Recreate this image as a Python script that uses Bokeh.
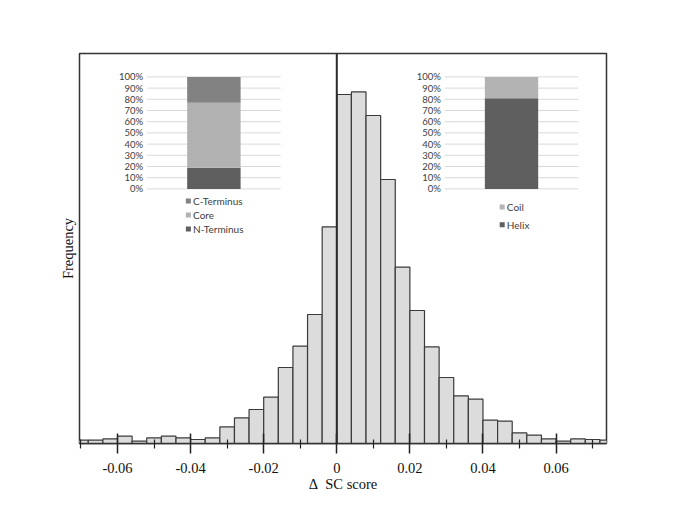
from bokeh.plotting import figure
from bokeh.models import Range1d, FixedTicker, Span
from bokeh.core.properties import value
from bokeh.embed import file_html
from bokeh.resources import INLINE
import numpy as np

# ---------------- data ----------------
bin_left = [-0.072, -0.068, -0.064, -0.060, -0.056, -0.052, -0.048, -0.044, -0.040,
            -0.036, -0.032, -0.028, -0.024, -0.020, -0.016, -0.012, -0.008, -0.004,
            0.000, 0.004, 0.008, 0.012, 0.016, 0.020, 0.024, 0.028, 0.032, 0.036,
            0.040, 0.044, 0.048, 0.052, 0.056, 0.060, 0.064, 0.068, 0.072]
bin_width = 0.004
frequency = [3.3, 3.3, 4.6, 7.3, 2.3, 5.6, 7.3, 5.6, 4.0,
             5.6, 16.6, 25.6, 34.0, 46.3, 76.0, 97.3, 129.0, 216.6,
             349.0, 351.6, 328.0, 264.0, 176.3, 133.0, 96.6, 66.0, 47.6, 44.3,
             23.3, 22.3, 10.6, 8.3, 4.6, 2.3, 4.6, 4.0, 3.3]
x_major_ticks = [-0.06, -0.04, -0.02, 0.0, 0.02, 0.04, 0.06]
x_minor_ticks = [-0.07, -0.05, -0.03, -0.01, 0.01, 0.03, 0.05, 0.07]
x_tick_labels = {-0.06: "-0.06", -0.04: "-0.04", -0.02: "-0.02", 0.0: "0",
                 0.02: "0.02", 0.04: "0.04", 0.06: "0.06"}

# inset 1 : region
region_names = ["N-Terminus", "Core", "C-Terminus"]
region_pct = [19, 58, 23]
region_colors = ["#5f5f5f", "#b1b1b1", "#828282"]
# inset 2 : secondary structure
ss_names = ["Helix", "Coil"]
ss_pct = [81, 19]
ss_colors = ["#5f5f5f", "#b3b3b3"]
pct_ticks = [0, 10, 20, 30, 40, 50, 60, 70, 80, 90, 100]
pct_labels = ["%d%%" % t for t in pct_ticks]

SERIF = "Liberation Serif"
SANS = "Lato"

p = figure(width=669, height=499, output_backend="svg", toolbar_location=None,
           x_range=Range1d(-0.0704, 0.0738), y_range=Range1d(0, 390),
           min_border_left=79, min_border_right=63, min_border_top=53,
           min_border_bottom=56)
p.background_fill_color = "white"
p.border_fill_color = "white"
p.outline_line_color = "#333333"
p.outline_line_width = 1.5
p.grid.visible = False

# extra ranges for the insets
p.extra_y_ranges = {"pct": Range1d(-227.3, 120.9)}
p.extra_x_ranges = {"in1": Range1d(-0.506, 3.439), "in2": Range1d(-2.739, 1.212)}

# histogram
left = np.array(bin_left)
p.quad(left=left, right=left + bin_width, bottom=0, top=frequency,
       fill_color="#dcdcdc", line_color="#3a3a3a", line_width=1.2)

p.add_layout(Span(location=0, dimension="height", line_color="#2a2a2a", line_width=2))

# x axis
xa = p.xaxis[0]
xa.ticker = FixedTicker(ticks=x_major_ticks, minor_ticks=x_minor_ticks)
xa.major_label_overrides = x_tick_labels
xa.major_tick_in = 10
xa.major_tick_out = 10
xa.minor_tick_in = 4
xa.minor_tick_out = 5
xa.major_tick_line_color = "#222222"
xa.minor_tick_line_color = "#222222"
xa.major_tick_line_width = 1.5
xa.minor_tick_line_width = 1.2
xa.axis_line_color = "#333333"
xa.axis_line_width = 1.5
xa.major_label_text_font = SERIF
xa.major_label_text_font_size = "14.5px"
xa.major_label_text_color = "#111111"
xa.major_label_standoff = 9
xa.axis_label = "\u0394\u00a0\u00a0SC score"
xa.axis_label_text_font = SERIF
xa.axis_label_text_font_size = "14.5px"
xa.axis_label_text_font_style = "normal"
xa.axis_label_text_color = "#111111"
xa.axis_label_standoff = 0

# y axis (label only)
ya = p.yaxis[0]
ya.ticker = FixedTicker(ticks=[])
ya.axis_line_color = None
ya.major_tick_line_color = None
ya.minor_tick_line_color = None
ya.major_tick_out = 0
ya.major_label_standoff = 0
ya.axis_label = "Frequency"
ya.axis_label_text_font = SERIF
ya.axis_label_text_font_size = "14.5px"
ya.axis_label_text_font_style = "normal"
ya.axis_label_text_color = "#111111"
ya.axis_label_standoff = 4


def inset(xr, names, pcts, colors, leg_x, leg_y):
    # grid lines
    p.segment(x0=0, x1=1, y0=pct_ticks, y1=pct_ticks, line_color="#d9d9d9",
              line_width=1, x_range_name=xr, y_range_name="pct")
    # tick labels
    p.text(x=-0.03, y=pct_ticks, text=pct_labels, text_align="right",
           text_baseline="middle", text_font=value(SANS), text_font_size="9.5px",
           text_color="#404040", x_range_name=xr, y_range_name="pct")
    # stacked bar
    tops = np.cumsum(pcts)
    bottoms = tops - np.array(pcts)
    p.vbar(x=0.5, width=0.4, bottom=bottoms, top=tops, fill_color=colors,
           line_color=None, x_range_name=xr, y_range_name="pct")
    # legend
    p.scatter(x=leg_x, y=leg_y, marker="square", size=5, fill_color=colors,
              line_color=None, x_range_name=xr, y_range_name="pct")
    p.text(x=leg_x + 0.035, y=leg_y, text=names, text_align="left",
           text_baseline="middle", text_font=value(SANS), text_font_size="10px",
           text_color="#404040", x_range_name=xr, y_range_name="pct")


# inset 1 legend rows top-to-bottom: C-Terminus, Core, N-Terminus
inset("in1", region_names, region_pct, region_colors, 0.309,
      np.array([-35.7, -23.2, -10.7]))
# inset 2 legend rows: Coil (top), Helix (bottom)
inset("in2", ss_names, ss_pct, ss_colors, 0.43, np.array([-32.1, -16.1]))

open("out.html", "w").write(file_html(p, INLINE))
